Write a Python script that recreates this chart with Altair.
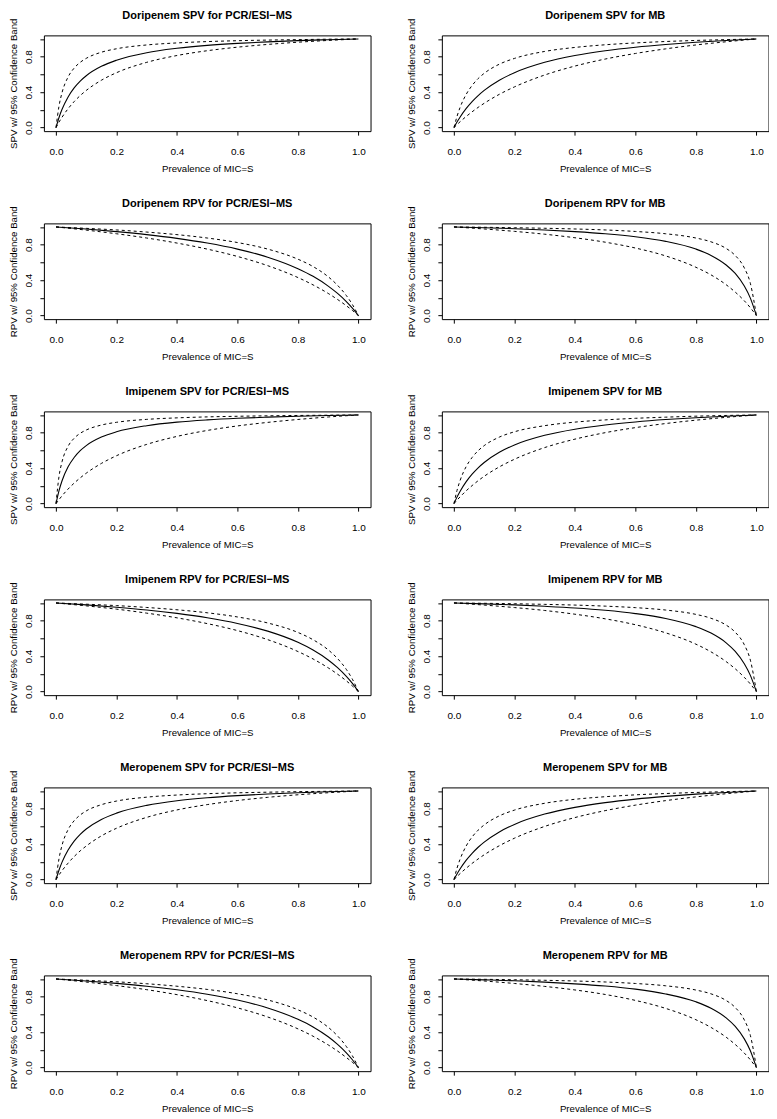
import altair as alt
import pandas as pd

FONT = "Liberation Sans"

# x positions (prevalence of MIC=S) at which the curves were read
SPV_X = [0.0, 0.01, 0.02, 0.04, 0.06, 0.08, 0.1, 0.15, 0.2, 0.3, 0.4, 0.5, 0.6, 0.7, 0.8, 0.9, 1.0]
RPV_X = [0.0, 0.1, 0.2, 0.3, 0.4, 0.5, 0.6, 0.7, 0.8, 0.85, 0.9, 0.93, 0.96, 0.98, 1.0]
TICKS = [0.0, 0.2, 0.4, 0.6, 0.8, 1.0]

# Doripenem
DORI_SPV_PCR_MID = [0, 0.114, 0.206, 0.346, 0.448, 0.525, 0.585, 0.691, 0.760, 0.845, 0.894, 0.927, 0.950, 0.967, 0.981, 0.991, 1.0]
DORI_SPV_PCR_HI = [0, 0.244, 0.395, 0.571, 0.671, 0.736, 0.781, 0.850, 0.889, 0.932, 0.955, 0.970, 0.980, 0.987, 0.992, 0.997, 1.0]
DORI_SPV_PCR_LO = [0, 0.062, 0.117, 0.213, 0.293, 0.361, 0.419, 0.534, 0.619, 0.736, 0.813, 0.867, 0.907, 0.938, 0.963, 0.983, 1.0]

DORI_SPV_MB_MID = [0, 0.062, 0.117, 0.213, 0.293, 0.361, 0.419, 0.534, 0.619, 0.736, 0.813, 0.867, 0.907, 0.938, 0.963, 0.983, 1.0]
DORI_SPV_MB_HI = [0, 0.125, 0.225, 0.372, 0.475, 0.553, 0.612, 0.715, 0.780, 0.859, 0.904, 0.934, 0.955, 0.971, 0.983, 0.992, 1.0]
DORI_SPV_MB_LO = [0, 0.033, 0.065, 0.124, 0.178, 0.228, 0.274, 0.375, 0.459, 0.593, 0.694, 0.773, 0.836, 0.888, 0.932, 0.968, 1.0]

DORI_RPV_PCR_MID = [1, 0.976, 0.947, 0.913, 0.871, 0.818, 0.750, 0.659, 0.529, 0.443, 0.333, 0.253, 0.158, 0.084, 0]
DORI_RPV_PCR_HI = [1, 0.984, 0.966, 0.942, 0.913, 0.875, 0.824, 0.750, 0.636, 0.553, 0.438, 0.345, 0.226, 0.125, 0]
DORI_RPV_PCR_LO = [1, 0.964, 0.923, 0.875, 0.818, 0.750, 0.667, 0.563, 0.429, 0.346, 0.250, 0.184, 0.111, 0.058, 0]

DORI_RPV_MB_MID = [1, 0.991, 0.980, 0.966, 0.947, 0.923, 0.889, 0.837, 0.750, 0.679, 0.571, 0.475, 0.333, 0.197, 0]
DORI_RPV_MB_HI = [1, 0.996, 0.991, 0.985, 0.977, 0.966, 0.949, 0.923, 0.875, 0.832, 0.757, 0.678, 0.538, 0.364, 0]
DORI_RPV_MB_LO = [1, 0.977, 0.950, 0.918, 0.878, 0.828, 0.762, 0.673, 0.545, 0.459, 0.348, 0.265, 0.167, 0.089, 0]

# Imipenem
IMI_SPV_PCR_MID = [0, 0.147, 0.258, 0.415, 0.520, 0.597, 0.654, 0.750, 0.810, 0.879, 0.919, 0.944, 0.962, 0.975, 0.986, 0.994, 1.0]
IMI_SPV_PCR_HI = [0, 0.308, 0.473, 0.647, 0.737, 0.793, 0.830, 0.886, 0.917, 0.950, 0.967, 0.978, 0.985, 0.990, 0.994, 0.997, 1.0]
IMI_SPV_PCR_LO = [0, 0.045, 0.088, 0.164, 0.231, 0.290, 0.343, 0.453, 0.540, 0.668, 0.758, 0.825, 0.876, 0.916, 0.949, 0.977, 1.0]

IMI_SPV_MB_MID = [0, 0.073, 0.137, 0.245, 0.332, 0.404, 0.464, 0.579, 0.661, 0.770, 0.839, 0.886, 0.921, 0.948, 0.969, 0.986, 1.0]
IMI_SPV_MB_HI = [0, 0.147, 0.258, 0.415, 0.520, 0.597, 0.654, 0.750, 0.810, 0.879, 0.919, 0.944, 0.962, 0.975, 0.986, 0.994, 1.0]
IMI_SPV_MB_LO = [0, 0.039, 0.075, 0.143, 0.203, 0.258, 0.308, 0.414, 0.500, 0.632, 0.727, 0.800, 0.857, 0.903, 0.941, 0.973, 1.0]

IMI_RPV_PCR_MID = [1, 0.978, 0.952, 0.921, 0.882, 0.833, 0.769, 0.682, 0.556, 0.469, 0.357, 0.273, 0.172, 0.093, 0]
IMI_RPV_PCR_HI = [1, 0.986, 0.970, 0.949, 0.923, 0.889, 0.842, 0.774, 0.667, 0.585, 0.471, 0.376, 0.250, 0.140, 0]
IMI_RPV_PCR_LO = [1, 0.967, 0.930, 0.885, 0.832, 0.767, 0.688, 0.586, 0.452, 0.368, 0.268, 0.199, 0.121, 0.063, 0]

IMI_RPV_MB_MID = [1, 0.990, 0.978, 0.962, 0.943, 0.917, 0.880, 0.825, 0.733, 0.660, 0.550, 0.453, 0.314, 0.183, 0]
IMI_RPV_MB_HI = [1, 0.996, 0.991, 0.984, 0.976, 0.964, 0.947, 0.920, 0.871, 0.827, 0.750, 0.670, 0.529, 0.355, 0]
IMI_RPV_MB_LO = [1, 0.976, 0.948, 0.915, 0.873, 0.821, 0.754, 0.663, 0.535, 0.448, 0.338, 0.257, 0.161, 0.086, 0]

# Meropenem
MERO_SPV_PCR_MID = [0, 0.108, 0.197, 0.333, 0.434, 0.511, 0.571, 0.679, 0.750, 0.837, 0.889, 0.923, 0.947, 0.966, 0.980, 0.991, 1.0]
MERO_SPV_PCR_HI = [0, 0.238, 0.388, 0.564, 0.664, 0.729, 0.775, 0.845, 0.886, 0.930, 0.954, 0.969, 0.979, 0.986, 0.992, 0.996, 1.0]
MERO_SPV_PCR_LO = [0, 0.053, 0.101, 0.186, 0.260, 0.324, 0.379, 0.493, 0.579, 0.702, 0.786, 0.846, 0.892, 0.928, 0.957, 0.980, 1.0]

MERO_SPV_MB_MID = [0, 0.0625, 0.119, 0.216, 0.296, 0.365, 0.423, 0.538, 0.623, 0.739, 0.815, 0.868, 0.908, 0.939, 0.964, 0.983, 1.0]
MERO_SPV_MB_HI = [0, 0.128, 0.228, 0.377, 0.481, 0.558, 0.617, 0.719, 0.784, 0.861, 0.906, 0.935, 0.956, 0.971, 0.983, 0.992, 1.0]
MERO_SPV_MB_LO = [0, 0.034, 0.067, 0.127, 0.183, 0.233, 0.280, 0.382, 0.467, 0.600, 0.700, 0.778, 0.840, 0.891, 0.933, 0.969, 1.0]

MERO_RPV_PCR_MID = [1, 0.977, 0.950, 0.918, 0.878, 0.828, 0.762, 0.673, 0.545, 0.459, 0.348, 0.265, 0.167, 0.089, 0]
MERO_RPV_PCR_HI = [1, 0.985, 0.968, 0.946, 0.918, 0.882, 0.833, 0.763, 0.652, 0.570, 0.455, 0.361, 0.238, 0.133, 0]
MERO_RPV_PCR_LO = [1, 0.965, 0.925, 0.879, 0.823, 0.756, 0.674, 0.571, 0.437, 0.354, 0.256, 0.189, 0.114, 0.060, 0]

MERO_RPV_MB_MID = [1, 0.990, 0.979, 0.964, 0.945, 0.920, 0.885, 0.831, 0.742, 0.670, 0.561, 0.464, 0.324, 0.190, 0]
MERO_RPV_MB_HI = [1, 0.996, 0.991, 0.985, 0.977, 0.966, 0.949, 0.923, 0.875, 0.832, 0.757, 0.678, 0.538, 0.364, 0]
MERO_RPV_MB_LO = [1, 0.977, 0.949, 0.916, 0.876, 0.825, 0.758, 0.668, 0.540, 0.453, 0.343, 0.261, 0.164, 0.088, 0]

PANELS = [
    ("Doripenem SPV for PCR/ESI\u2212MS", "SPV", DORI_SPV_PCR_MID, DORI_SPV_PCR_LO, DORI_SPV_PCR_HI),
    ("Doripenem SPV for MB", "SPV", DORI_SPV_MB_MID, DORI_SPV_MB_LO, DORI_SPV_MB_HI),
    ("Doripenem RPV for PCR/ESI\u2212MS", "RPV", DORI_RPV_PCR_MID, DORI_RPV_PCR_LO, DORI_RPV_PCR_HI),
    ("Doripenem RPV for MB", "RPV", DORI_RPV_MB_MID, DORI_RPV_MB_LO, DORI_RPV_MB_HI),
    ("Imipenem SPV for PCR/ESI\u2212MS", "SPV", IMI_SPV_PCR_MID, IMI_SPV_PCR_LO, IMI_SPV_PCR_HI),
    ("Imipenem SPV for MB", "SPV", IMI_SPV_MB_MID, IMI_SPV_MB_LO, IMI_SPV_MB_HI),
    ("Imipenem RPV for PCR/ESI\u2212MS", "RPV", IMI_RPV_PCR_MID, IMI_RPV_PCR_LO, IMI_RPV_PCR_HI),
    ("Imipenem RPV for MB", "RPV", IMI_RPV_MB_MID, IMI_RPV_MB_LO, IMI_RPV_MB_HI),
    ("Meropenem SPV for PCR/ESI\u2212MS", "SPV", MERO_SPV_PCR_MID, MERO_SPV_PCR_LO, MERO_SPV_PCR_HI),
    ("Meropenem SPV for MB", "SPV", MERO_SPV_MB_MID, MERO_SPV_MB_LO, MERO_SPV_MB_HI),
    ("Meropenem RPV for PCR/ESI\u2212MS", "RPV", MERO_RPV_PCR_MID, MERO_RPV_PCR_LO, MERO_RPV_PCR_HI),
    ("Meropenem RPV for MB", "RPV", MERO_RPV_MB_MID, MERO_RPV_MB_LO, MERO_RPV_MB_HI),
]

Y_LABEL_EXPR = (
    "abs(datum.value) < 0.001 || abs(datum.value - 0.4) < 0.001 || "
    "abs(datum.value - 0.8) < 0.001 ? format(datum.value, '.1f') : ''"
)


def make_panel(title, kind, mid, lo, hi):
    xs = SPV_X if kind == "SPV" else RPV_X
    rows = []
    for name, ys in (("mid", mid), ("lo", lo), ("hi", hi)):
        for x, y in zip(xs, ys):
            rows.append({"x": x, "y": y, "s": name})
    df = pd.DataFrame(rows)
    xenc = alt.X(
        "x:Q",
        scale=alt.Scale(domain=[-0.04, 1.04], nice=False, zero=False),
        axis=alt.Axis(values=TICKS, format=".1f", title="Prevalence of MIC=S"),
    )
    yenc = alt.Y(
        "y:Q",
        scale=alt.Scale(domain=[-0.04, 1.04], nice=False, zero=False),
        axis=alt.Axis(
            values=TICKS,
            labelExpr=Y_LABEL_EXPR,
            title=f"{kind} w/ 95% Confidence Band",
            labelAngle=270,
            labelAlign="center",
            labelBaseline="bottom",
        ),
    )
    base = alt.Chart(df).encode(x=xenc, y=yenc)
    solid = base.transform_filter(alt.datum.s == "mid").mark_line(
        color="black", strokeWidth=1.1, interpolate="monotone"
    )
    dashed = base.transform_filter(alt.datum.s != "mid").mark_line(
        color="black", strokeWidth=1, strokeDash=[3, 3], interpolate="monotone"
    ).encode(detail="s:N")
    return alt.layer(solid, dashed).properties(
        width=327.5,
        height=96,
        title=alt.TitleParams(
            title,
            fontSize=11,
            fontWeight="bold",
            font=FONT,
            color="black",
            anchor="middle",
            frame="group",
            offset=0,
            baseline="alphabetic",
            dy=12.4,
        ),
    )


panels = [make_panel(*p) for p in PANELS]
rows = [alt.hconcat(panels[i], panels[i + 1], spacing=35) for i in range(0, 12, 2)]

chart = (
    alt.vconcat(*rows, spacing=23.5)
    .properties(
        padding={"top": 0, "left": 0, "right": 0, "bottom": 0},
        background="white",
    )
    .configure_view(stroke="black", strokeWidth=1, fill=None)
    .configure_axis(
        domain=False,
        grid=False,
        ticks=True,
        tickColor="black",
        tickSize=4,
        tickWidth=1,
        labelFont=FONT,
        labelFontSize=10,
        labelColor="black",
        labelFlush=False,
        labelOverlap=False,
        titleFont=FONT,
        titleFontSize=9.7,
        titleFontWeight="normal",
        titleColor="black",
    )
    .configure_axisX(labelPadding=11.5, titlePadding=7)
    .configure_axisY(labelPadding=6.3, titlePadding=5)
)

chart.save("out.html", embed_options={"renderer": "svg", "actions": False})
